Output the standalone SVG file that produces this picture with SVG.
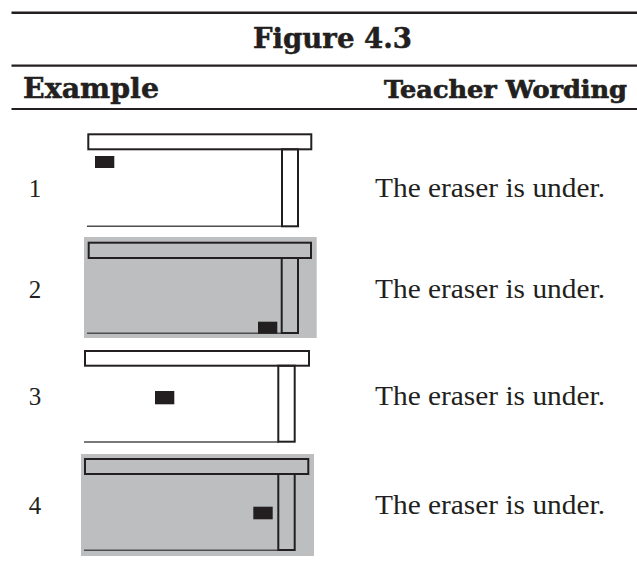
<svg xmlns="http://www.w3.org/2000/svg" width="637" height="571" viewBox="0 0 637 571">
  <style>
    .rule { stroke: #231f20; }
    .head { font-family: "DejaVu Serif", "Liberation Serif", serif; font-weight: bold; font-size: 28px; fill: #231f20; stroke: #231f20; stroke-width: 0.5; }
    .head.wide { font-size: 25px; stroke-width: 0.7; }
    .body { font-family: "Liberation Serif", "DejaVu Serif", serif; font-size: 27px; fill: #231f20; }
    .num { font-family: "Liberation Serif", "DejaVu Serif", serif; font-size: 25px; fill: #231f20; text-anchor: middle; }
    .bg { fill: #bdbec0; }
    .top, .leg { fill: none; stroke: #231f20; stroke-width: 2; }
    .floor { stroke: #4d4d4f; stroke-width: 1.6; }
    .eraser { fill: #231f20; }
  </style>
  <rect width="637" height="571" fill="#ffffff"/>

  <!-- header rules and titles -->
  <g id="header">
    <line class="rule" x1="11.5" y1="12.8" x2="637" y2="12.8" stroke-width="2.5"/>
    <line class="rule" x1="11.5" y1="65.7" x2="637" y2="65.7" stroke-width="2.2"/>
    <line class="rule" x1="11.5" y1="109" x2="637" y2="109" stroke-width="2.2"/>
    <text class="head" x="253" y="48" textLength="159" lengthAdjust="spacingAndGlyphs">Figure 4.3</text>
    <text class="head" x="23" y="98" textLength="136" lengthAdjust="spacingAndGlyphs">Example</text>
    <text class="head wide" x="384" y="98" textLength="243" lengthAdjust="spacingAndGlyphs">Teacher Wording</text>
  </g>

  <!-- example 1: eraser above floor, left -->
  <g id="example-1">
    <text class="num" x="35" y="197">1</text>
    <rect class="top" x="88.3" y="134.3" width="223" height="15"/>
    <line class="floor" x1="87" y1="226.3" x2="282" y2="226.3"/>
    <rect class="leg" x="282" y="149.3" width="16" height="77"/>
    <rect class="eraser" x="95" y="156" width="19.3" height="12"/>
    <text class="body" x="375" y="197" textLength="230" lengthAdjust="spacingAndGlyphs">The eraser is under.</text>
  </g>

  <!-- example 2: eraser on the floor under the table -->
  <g id="example-2">
    <text class="num" x="35" y="297.5">2</text>
    <rect class="bg" x="84" y="237" width="232.7" height="101"/>
    <rect class="top" x="88.7" y="242.7" width="222.3" height="15.3"/>
    <line class="floor" x1="87" y1="333.3" x2="282" y2="333.3"/>
    <rect class="leg" x="281.7" y="258" width="16.3" height="75"/>
    <rect class="eraser" x="258" y="321.7" width="19.3" height="12"/>
    <text class="body" x="375" y="297.5" textLength="230" lengthAdjust="spacingAndGlyphs">The eraser is under.</text>
  </g>

  <!-- example 3: eraser in the middle -->
  <g id="example-3">
    <text class="num" x="35" y="405">3</text>
    <rect class="top" x="85" y="351" width="224" height="14.7"/>
    <line class="floor" x1="84" y1="442" x2="279" y2="442"/>
    <rect class="leg" x="278.3" y="365.7" width="16.4" height="76"/>
    <rect class="eraser" x="155" y="391" width="19.3" height="13.3"/>
    <text class="body" x="375" y="405" textLength="230" lengthAdjust="spacingAndGlyphs">The eraser is under.</text>
  </g>

  <!-- example 4: eraser beside the leg -->
  <g id="example-4">
    <text class="num" x="35" y="514">4</text>
    <rect class="bg" x="81" y="454" width="233" height="102"/>
    <rect class="top" x="85" y="459" width="223.3" height="15"/>
    <line class="floor" x1="84" y1="550.3" x2="279" y2="550.3"/>
    <rect class="leg" x="278.3" y="474" width="16.4" height="76"/>
    <rect class="eraser" x="253.3" y="506.7" width="19.4" height="12.6"/>
    <text class="body" x="375" y="514" textLength="230" lengthAdjust="spacingAndGlyphs">The eraser is under.</text>
  </g>
</svg>
